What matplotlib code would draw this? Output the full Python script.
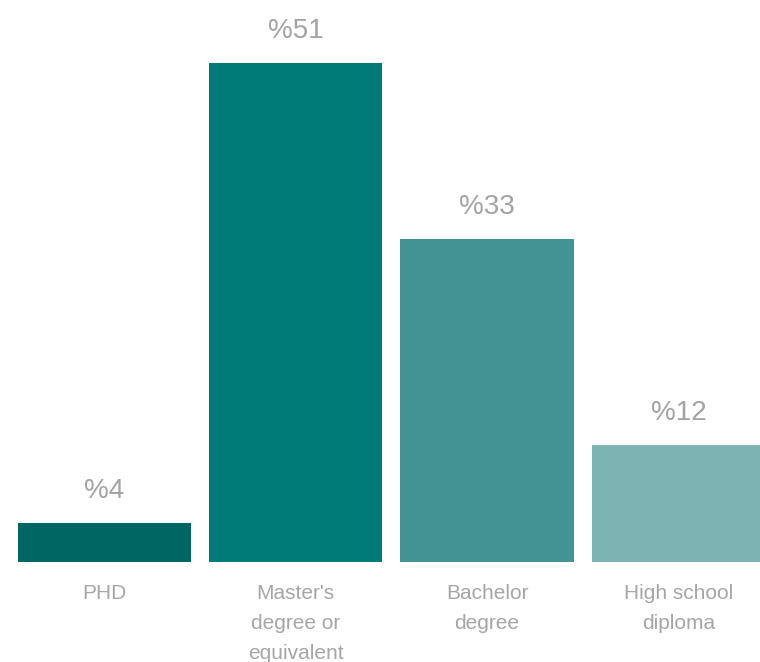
import matplotlib
matplotlib.use("Agg")
import matplotlib.pyplot as plt

categories = ["PHD", "Master's\ndegree or\nequivalent", "Bachelor\ndegree", "High school\ndiploma"]
values = [4, 51, 33, 12]
value_labels = ["%4", "%51", "%33", "%12"]
bar_colors = ["#006663", "#007B78", "#429494", "#7EB3B3"]

plt.rcParams['font.family'] = ['Liberation Sans', 'DejaVu Sans']

fig = plt.figure(figsize=(7.6, 6.62), dpi=100)
ax = fig.add_axes([0, 0, 1, 1])

xs = list(range(len(values)))
ax.bar(xs, values, width=0.905, color=bar_colors)

# percentage labels above each bar
for x, v, lab in zip(xs, values, value_labels):
    ax.annotate(lab, (x, v), xytext=(0, 18), textcoords='offset points',
                ha='center', va='baseline', fontsize=20, color='#a3a3a3')

# category names under the bars
for x, cat in zip(xs, categories):
    ax.annotate(cat, (x, 0), xytext=(0, -15.5), textcoords='offset points',
                ha='center', va='top', fontsize=15, color='#a6a6a6',
                linespacing=1.76)

ax.set_xlim(-0.546, 3.427)
ax.set_ylim(-10.2, 57.4)
ax.axis('off')

fig.savefig("out.png", dpi=100)
plt.close(fig)
